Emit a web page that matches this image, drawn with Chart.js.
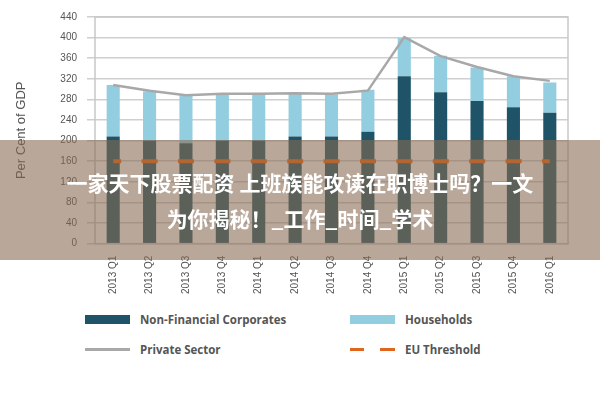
<!DOCTYPE html>
<html><head><meta charset="utf-8">
<script src="https://cdn.jsdelivr.net/npm/chart.js@4"></script>
<style>
body{margin:0;width:600px;height:400px;background:#fff;position:relative;overflow:hidden;font-family:"Open Sans",sans-serif}
#wrap{position:absolute;left:0;top:0;width:600px;height:300px}
#legend{position:absolute;left:85px;top:312px;width:480px;font-size:11.5px;font-weight:bold;color:#555}
.it{position:absolute;display:flex;align-items:center}
.sw{display:inline-block;margin-right:10px}
#banner{position:absolute;left:0;top:140px;width:600px;height:120px;background:rgba(135,105,80,0.58);color:#fff;font-family:"Noto Sans CJK SC";font-weight:bold;font-size:21px;line-height:36px;text-align:center;padding-top:24px;box-sizing:border-box}
</style></head><body>
<div id="wrap"><canvas id="c"></canvas></div>
<div id="legend">
<div class="it" style="left:0;top:0"><span class="sw" style="width:45px;height:9px;background:#1f5468"></span>Non-Financial Corporates</div>
<div class="it" style="left:265px;top:0"><span class="sw" style="width:45px;height:9px;background:#92cde0"></span>Households</div>
<div class="it" style="left:0;top:30px"><span class="sw" style="width:45px;height:3px;background:#a8a8a8"></span>Private Sector</div>
<div class="it" style="left:265px;top:30px"><span class="sw" style="width:45px;height:3px;background:linear-gradient(90deg,#e0661e 0 14px,transparent 14px 30px,#e0661e 30px 45px)"></span>EU Threshold</div>
</div>
<div id="banner">一家天下股票配资 上班族能攻读在职博士吗？一文<br>为你揭秘！_工作_时间_学术</div>
<script>
const labels = ['2013 Q1','2013 Q2','2013 Q3','2013 Q4','2014 Q1','2014 Q2','2014 Q3','2014 Q4','2015 Q1','2015 Q2','2015 Q3','2015 Q4','2016 Q1'];
const corporates = [208, 200, 195, 200, 200, 208, 208, 217, 325, 294, 277, 265, 254];
const households = [100, 96, 93, 91, 91, 84, 82, 82, 74, 71, 65, 60, 59];
const privateSector = [308, 297, 288, 291, 291, 292, 291, 297, 401, 364, 343, 325, 316];
const threshold = [160, 160, 160, 160, 160, 160, 160, 160, 160, 160, 160, 160, 160];

// box around the plot area
const frame = {
    id: 'frame',
    afterDraw(chart) {
        const a = chart.chartArea, ctx = chart.ctx;
        ctx.save();
        ctx.strokeStyle = '#c8c8c8';
        ctx.lineWidth = 1.5;
        ctx.strokeRect(a.left, a.top, a.right - a.left, a.bottom - a.top);
        ctx.restore();
    }
};

new Chart(document.getElementById('c'), {
    data: {
        labels: labels,
        datasets: [
            { type: 'line', label: 'Private Sector', data: privateSector, borderColor: '#a8a8a8', borderWidth: 2.5, pointRadius: 0, tension: 0, order: 0 },
            { type: 'line', label: 'EU Threshold', data: threshold, borderColor: '#f0600a', borderWidth: 4, borderDash: [16, 20.4], borderDashOffset: 8, pointRadius: 0, stack: 't', order: 0 },
            { type: 'bar', label: 'Non-Financial Corporates', data: corporates, backgroundColor: '#1f5468', stack: 's', barPercentage: 0.36, categoryPercentage: 1, order: 1 },
            { type: 'bar', label: 'Households', data: households, backgroundColor: '#92cde0', stack: 's', barPercentage: 0.36, categoryPercentage: 1, order: 1 }
        ]
    },
    options: {
        responsive: true, maintainAspectRatio: false, animation: false,
        layout: { padding: { top: 17, right: 32, left: 10, bottom: 2 } },
        plugins: { legend: { display: false }, tooltip: { enabled: false } },
        scales: {
            x: { stacked: true, grid: { display: false }, border: { color: '#ccc' },
                 ticks: { color: '#555', font: { size: 10 }, maxRotation: 90, minRotation: 90, autoSkip: false, padding: 4 } },
            y: { stacked: true, min: 0, max: 440, border: { display: false },
                 grid: { color: '#cfcfcf', lineWidth: 1.5 },
                 afterFit(s) { s.width = 85; },
                 ticks: { stepSize: 40, color: '#555', font: { size: 10 }, padding: 10 },
                 title: { display: true, text: 'Per Cent of GDP', color: '#555', font: { size: 13 }, padding: { bottom: 0 } } }
        }
    },
    plugins: [frame]
});
</script>
</body></html>
